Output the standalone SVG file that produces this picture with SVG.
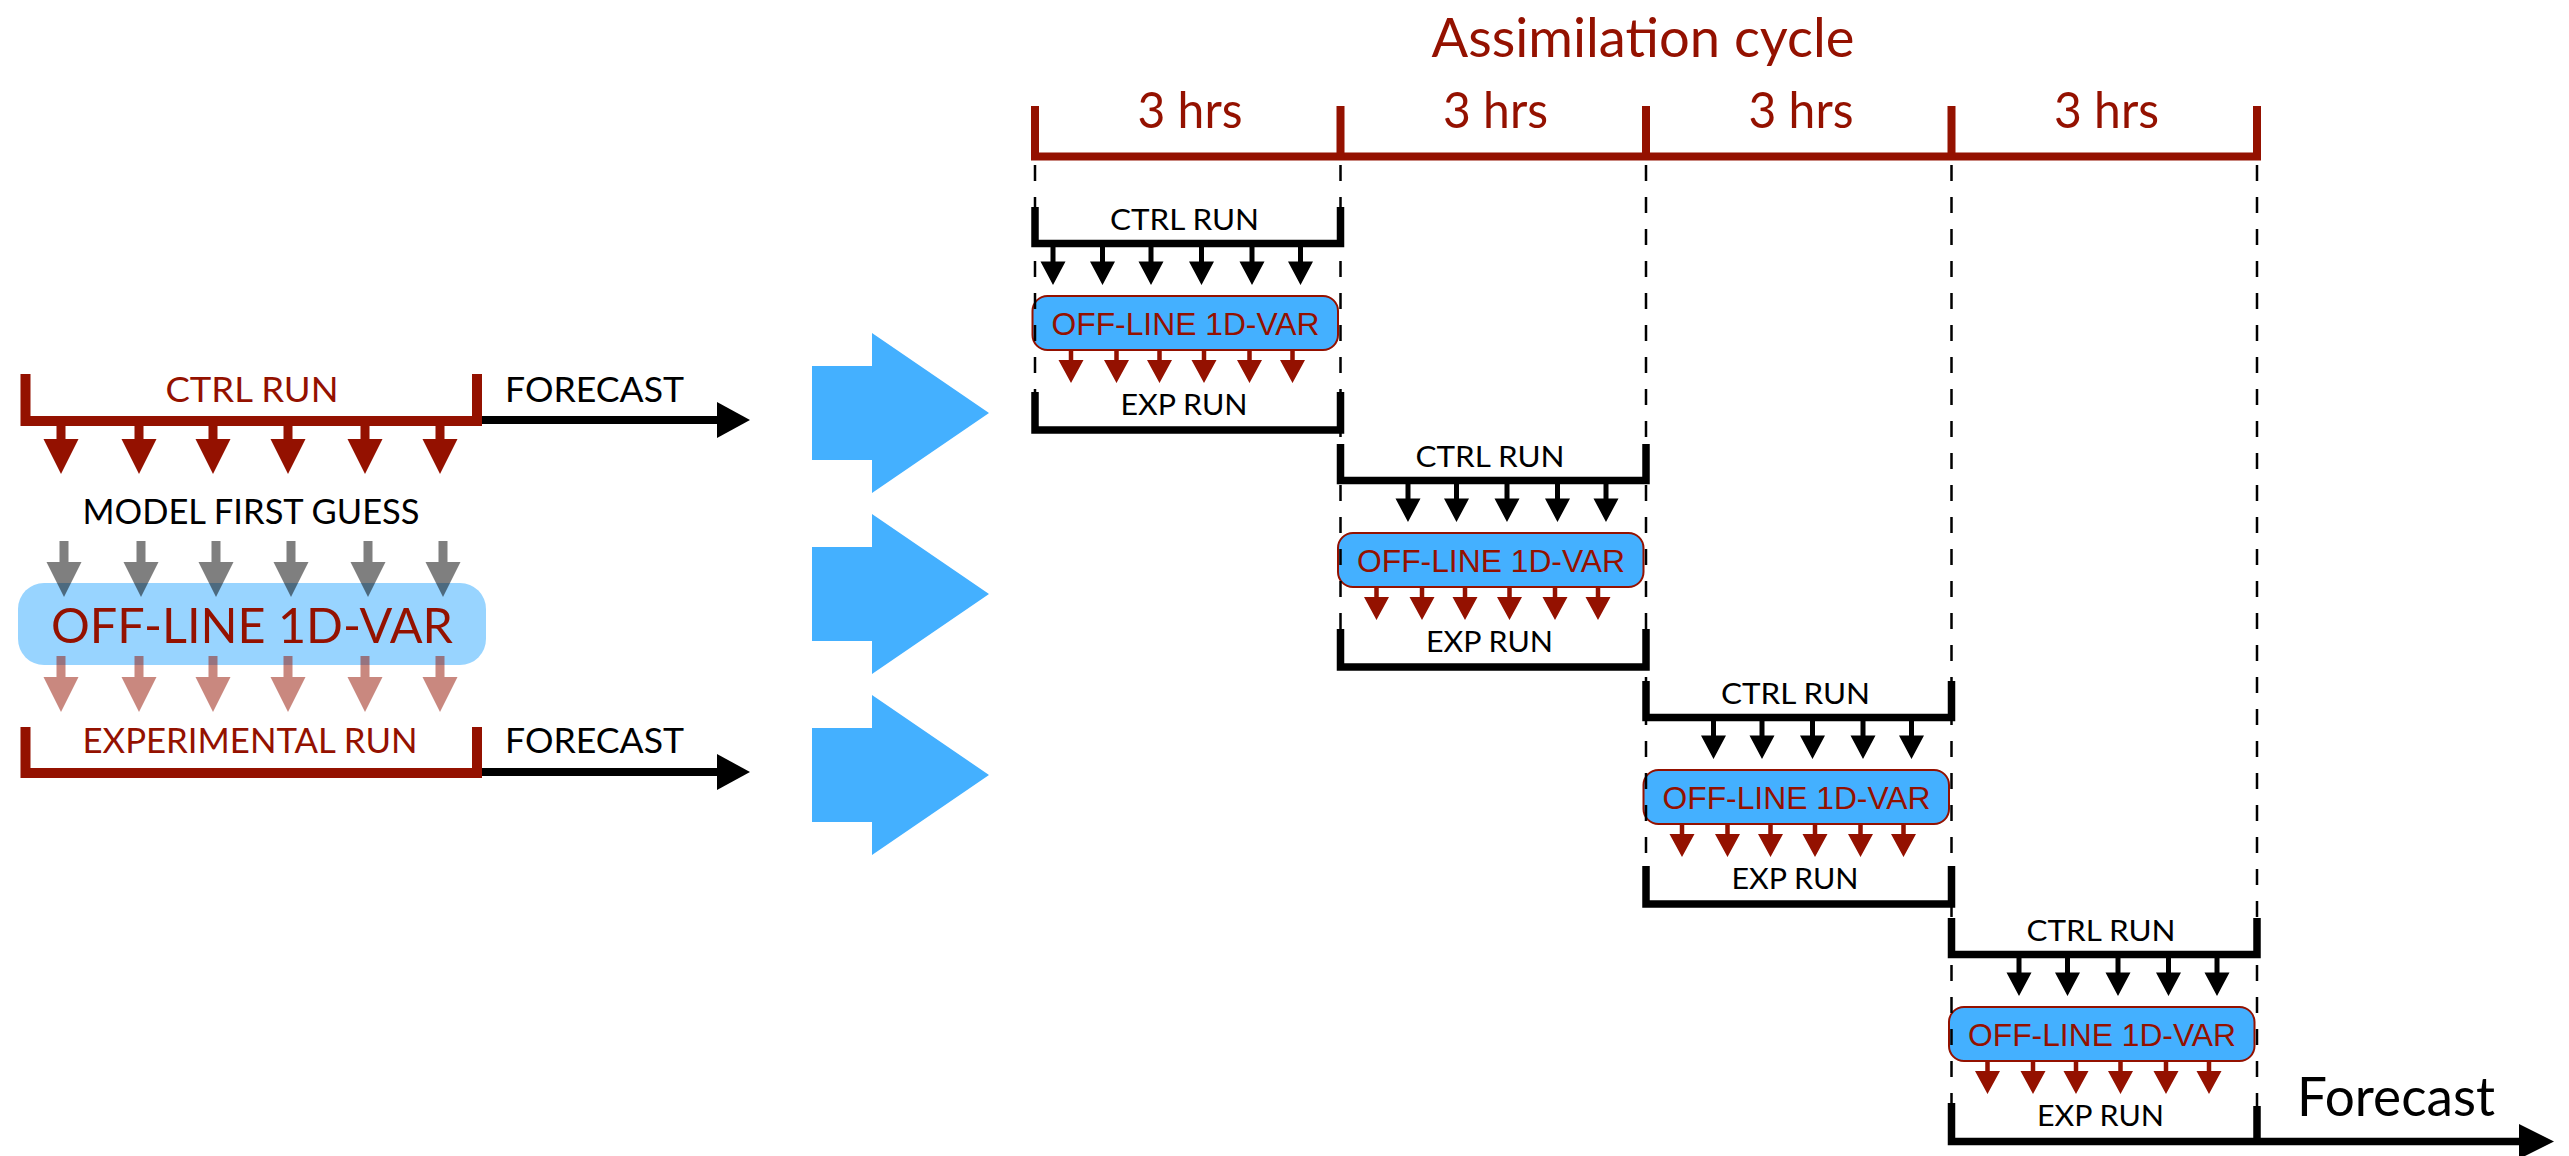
<svg xmlns="http://www.w3.org/2000/svg" xmlns:xlink="http://www.w3.org/1999/xlink" width="2569" height="1156" viewBox="0 0 2569 1156">
  <style>
    .gill { font-family: "Lato", "Liberation Sans", sans-serif; }
    .arial { font-family: "Liberation Sans", Arial, sans-serif; }
    .red { fill: #941100; }
    .blk { fill: #000; }
    .mid { text-anchor: middle; }
    .brk-red { fill: none; stroke: #941100; stroke-width: 10; stroke-linejoin: miter; }
    .brk { fill: none; stroke: #000; stroke-width: 7.5; stroke-linejoin: miter; }
    .box { fill: #44b0ff; stroke: #941100; stroke-width: 2; }
    .guide { fill: none; stroke: #000; stroke-width: 2.5; stroke-dasharray: 16 16; }
    .shaft { fill: none; stroke: #000; stroke-width: 8; }
  </style>
  <defs>
    <!-- down arrow used on the left panel -->
    <path id="dnL" d="M-4.5,0 H4.5 V21 H17.5 L0,56 L-17.5,21 H-4.5 Z"/>
    <!-- small down arrow from a CTRL bar -->
    <path id="dnS" d="M-2.5,0 H2.5 V18 H12.5 L0,41.5 L-12.5,18 H-2.5 Z"/>
    <!-- small down arrow from a 1D-VAR box -->
    <path id="dnR" d="M-2.25,0 H2.25 V10 H12.5 L0,33 L-12.5,10 H-2.25 Z"/>
    <!-- wide block arrow -->
    <path id="block" d="M0,-47 H60 V-80 L177,0 L60,80 V47 H0 Z"/>
  </defs>

  <rect width="2569" height="1156" fill="#fff"/>

  <!-- ===== left panel ===== -->
  <g id="left-ctrl">
    <path class="brk-red" d="M25.5,374 V421 H477 V374"/>
    <text class="gill red mid" x="252" y="402" font-size="34" textLength="173" lengthAdjust="spacingAndGlyphs">CTRL RUN</text>
  </g>
  <g id="left-forecast-ctrl">
    <text class="gill blk" x="505" y="402" font-size="35" textLength="179" lengthAdjust="spacingAndGlyphs">FORECAST</text>
  </g>
  <g id="left-first-guess">
    <text class="gill blk mid" x="251" y="524" font-size="34" textLength="337" lengthAdjust="spacingAndGlyphs">MODEL FIRST GUESS</text>
  </g>
  <g id="left-1dvar">
    <rect x="18" y="583" width="468" height="82" rx="26" fill="#44b0ff" fill-opacity="0.55"/>
    <text class="gill red mid" x="252" y="643" font-size="49" textLength="402" lengthAdjust="spacingAndGlyphs">OFF-LINE 1D-VAR</text>
  </g>
  <g id="left-exp">
    <path class="brk-red" d="M25.5,727 V773 H477 V727"/>
    <text class="gill red mid" x="250" y="753" font-size="34" textLength="335" lengthAdjust="spacingAndGlyphs">EXPERIMENTAL RUN</text>
  </g>
  <g id="left-forecast-exp">
    <text class="gill blk" x="505" y="753" font-size="35" textLength="179" lengthAdjust="spacingAndGlyphs">FORECAST</text>
  </g>

  <!-- ===== assimilation timeline ===== -->
  <g id="timeline">
    <text class="gill red mid" x="1643" y="57" font-size="54" textLength="423" lengthAdjust="spacingAndGlyphs">Assimilation cycle</text>
    <g fill="none" stroke="#941100" stroke-width="8">
      <path d="M1031,156.5 H2261"/>
      <path d="M1035,106 V160 M1340.5,106 V160 M1646,106 V160 M1951.5,106 V160 M2257,106 V160"/>
    </g>
    <g class="gill red mid" font-size="50">
      <text x="1190" y="128" textLength="105" lengthAdjust="spacingAndGlyphs">3 hrs</text>
      <text x="1495.5" y="128" textLength="105" lengthAdjust="spacingAndGlyphs">3 hrs</text>
      <text x="1801" y="128" textLength="105" lengthAdjust="spacingAndGlyphs">3 hrs</text>
      <text x="2106.5" y="128" textLength="105" lengthAdjust="spacingAndGlyphs">3 hrs</text>
    </g>
  </g>

  <!-- ===== cycle stages (drawn in stage-0 coordinates, then shifted) ===== -->
  <g id="stage-1">
    <g id="stage-1-ctrl">
      <path class="brk" d="M1035,207 V243.5 H1340.5 V207"/>
      <text class="gill blk mid" x="1184.5" y="229.5" font-size="29" textLength="149" lengthAdjust="spacingAndGlyphs">CTRL RUN</text>
    </g>
    <g id="stage-1-1dvar">
      <rect class="box" x="1032.5" y="296" width="305.5" height="54" rx="15"/>
      <text class="arial red mid" x="1185.5" y="335" font-size="31" textLength="268" lengthAdjust="spacingAndGlyphs">OFF-LINE 1D-VAR</text>
    </g>
    <g id="stage-1-exp">
      <path class="brk" d="M1035,392 V430 H1340.5 V392"/>
      <text class="gill blk mid" x="1184" y="415" font-size="28.5" textLength="127" lengthAdjust="spacingAndGlyphs">EXP RUN</text>
    </g>
  </g>
  <g id="stage-2" transform="translate(305.5,237)">
    <g id="stage-2-ctrl">
      <path class="brk" d="M1035,207 V243.5 H1340.5 V207"/>
      <text class="gill blk mid" x="1184.5" y="229.5" font-size="29" textLength="149" lengthAdjust="spacingAndGlyphs">CTRL RUN</text>
    </g>
    <g id="stage-2-1dvar">
      <rect class="box" x="1032.5" y="296" width="305.5" height="54" rx="15"/>
      <text class="arial red mid" x="1185.5" y="335" font-size="31" textLength="268" lengthAdjust="spacingAndGlyphs">OFF-LINE 1D-VAR</text>
    </g>
    <g id="stage-2-exp">
      <path class="brk" d="M1035,392 V430 H1340.5 V392"/>
      <text class="gill blk mid" x="1184" y="415" font-size="28.5" textLength="127" lengthAdjust="spacingAndGlyphs">EXP RUN</text>
    </g>
  </g>
  <g id="stage-3" transform="translate(611,474)">
    <g id="stage-3-ctrl">
      <path class="brk" d="M1035,207 V243.5 H1340.5 V207"/>
      <text class="gill blk mid" x="1184.5" y="229.5" font-size="29" textLength="149" lengthAdjust="spacingAndGlyphs">CTRL RUN</text>
    </g>
    <g id="stage-3-1dvar">
      <rect class="box" x="1032.5" y="296" width="305.5" height="54" rx="15"/>
      <text class="arial red mid" x="1185.5" y="335" font-size="31" textLength="268" lengthAdjust="spacingAndGlyphs">OFF-LINE 1D-VAR</text>
    </g>
    <g id="stage-3-exp">
      <path class="brk" d="M1035,392 V430 H1340.5 V392"/>
      <text class="gill blk mid" x="1184" y="415" font-size="28.5" textLength="127" lengthAdjust="spacingAndGlyphs">EXP RUN</text>
    </g>
  </g>
  <g id="stage-4" transform="translate(916.5,711)">
    <g id="stage-4-ctrl">
      <path class="brk" d="M1035,207 V243.5 H1340.5 V207"/>
      <text class="gill blk mid" x="1184.5" y="229.5" font-size="29" textLength="149" lengthAdjust="spacingAndGlyphs">CTRL RUN</text>
    </g>
    <g id="stage-4-1dvar">
      <rect class="box" x="1032.5" y="296" width="305.5" height="54" rx="15"/>
      <text class="arial red mid" x="1185.5" y="335" font-size="31" textLength="268" lengthAdjust="spacingAndGlyphs">OFF-LINE 1D-VAR</text>
    </g>
    <g id="stage-4-exp">
      <path class="brk" d="M1035,392 V430.5 H1604 M1340.5,395 V430.5"/>
      <text class="gill blk mid" x="1184" y="415" font-size="28.5" textLength="127" lengthAdjust="spacingAndGlyphs">EXP RUN</text>
    </g>
  </g>
  <g id="final-forecast">
    <text class="gill blk" x="2297" y="1116" font-size="55" textLength="198" lengthAdjust="spacingAndGlyphs">Forecast</text>
  </g>

  <!-- dashed time guides -->
  <g id="guides" class="guide">
    <path d="M1035,165 V430"/>
    <path d="M1340.5,165 V667"/>
    <path d="M1646,165 V904"/>
    <path d="M1951.5,165 V1141"/>
    <path d="M2257,165 V1106"/>
  </g>

  <!-- ===== connectors ===== -->
  <g id="connectors">
    <!-- left panel: forecast arrows -->
    <path class="shaft" d="M482,420 H720"/>
    <polygon points="717,402 750,420 717,438" fill="#000"/>
    <path class="shaft" d="M482,772 H720"/>
    <polygon points="717,754 750,772 717,790" fill="#000"/>

    <!-- left panel: ctrl run to first guess -->
    <g fill="#941100">
      <use href="#dnL" x="61" y="418"/>
      <use href="#dnL" x="139" y="418"/>
      <use href="#dnL" x="213" y="418"/>
      <use href="#dnL" x="288" y="418"/>
      <use href="#dnL" x="365" y="418"/>
      <use href="#dnL" x="440" y="418"/>
    </g>
    <!-- left panel: first guess into 1D-VAR -->
    <g fill="#000" fill-opacity="0.5">
      <use href="#dnL" x="64" y="541"/>
      <use href="#dnL" x="141" y="541"/>
      <use href="#dnL" x="216" y="541"/>
      <use href="#dnL" x="291" y="541"/>
      <use href="#dnL" x="368" y="541"/>
      <use href="#dnL" x="443" y="541"/>
    </g>
    <!-- left panel: 1D-VAR into experimental run -->
    <g fill="#941100" fill-opacity="0.5">
      <use href="#dnL" x="61" y="656"/>
      <use href="#dnL" x="139" y="656"/>
      <use href="#dnL" x="213" y="656"/>
      <use href="#dnL" x="288" y="656"/>
      <use href="#dnL" x="365" y="656"/>
      <use href="#dnL" x="440" y="656"/>
    </g>

    <!-- block arrows -->
    <g fill="#44b0ff">
      <use href="#block" x="812" y="413"/>
      <use href="#block" x="812" y="594"/>
      <use href="#block" x="812" y="775"/>
    </g>

    <!-- stage 1 arrows -->
    <g fill="#000">
      <use href="#dnS" x="1053" y="243.5"/>
      <use href="#dnS" x="1102.5" y="243.5"/>
      <use href="#dnS" x="1151" y="243.5"/>
      <use href="#dnS" x="1201.5" y="243.5"/>
      <use href="#dnS" x="1252" y="243.5"/>
      <use href="#dnS" x="1300.5" y="243.5"/>
    </g>
    <g fill="#941100">
      <use href="#dnR" x="1071" y="350"/>
      <use href="#dnR" x="1116.5" y="350"/>
      <use href="#dnR" x="1159.5" y="350"/>
      <use href="#dnR" x="1204" y="350"/>
      <use href="#dnR" x="1249.5" y="350"/>
      <use href="#dnR" x="1292.5" y="350"/>
    </g>

    <!-- stages 2-4 arrows -->
    <g transform="translate(305.5,237)">
      <g fill="#000">
        <use href="#dnS" x="1102.5" y="243.5"/>
        <use href="#dnS" x="1151" y="243.5"/>
        <use href="#dnS" x="1201.5" y="243.5"/>
        <use href="#dnS" x="1252" y="243.5"/>
        <use href="#dnS" x="1300.5" y="243.5"/>
      </g>
      <g fill="#941100">
        <use href="#dnR" x="1071" y="350"/>
        <use href="#dnR" x="1116.5" y="350"/>
        <use href="#dnR" x="1159.5" y="350"/>
        <use href="#dnR" x="1204" y="350"/>
        <use href="#dnR" x="1249.5" y="350"/>
        <use href="#dnR" x="1292.5" y="350"/>
      </g>
    </g>
    <g transform="translate(611,474)">
      <g fill="#000">
        <use href="#dnS" x="1102.5" y="243.5"/>
        <use href="#dnS" x="1151" y="243.5"/>
        <use href="#dnS" x="1201.5" y="243.5"/>
        <use href="#dnS" x="1252" y="243.5"/>
        <use href="#dnS" x="1300.5" y="243.5"/>
      </g>
      <g fill="#941100">
        <use href="#dnR" x="1071" y="350"/>
        <use href="#dnR" x="1116.5" y="350"/>
        <use href="#dnR" x="1159.5" y="350"/>
        <use href="#dnR" x="1204" y="350"/>
        <use href="#dnR" x="1249.5" y="350"/>
        <use href="#dnR" x="1292.5" y="350"/>
      </g>
    </g>
    <g transform="translate(916.5,711)">
      <g fill="#000">
        <use href="#dnS" x="1102.5" y="243.5"/>
        <use href="#dnS" x="1151" y="243.5"/>
        <use href="#dnS" x="1201.5" y="243.5"/>
        <use href="#dnS" x="1252" y="243.5"/>
        <use href="#dnS" x="1300.5" y="243.5"/>
      </g>
      <g fill="#941100">
        <use href="#dnR" x="1071" y="350"/>
        <use href="#dnR" x="1116.5" y="350"/>
        <use href="#dnR" x="1159.5" y="350"/>
        <use href="#dnR" x="1204" y="350"/>
        <use href="#dnR" x="1249.5" y="350"/>
        <use href="#dnR" x="1292.5" y="350"/>
      </g>
      <!-- forecast arrow head -->
      <polygon points="1602.5,413 1637.5,430.5 1602.5,448" fill="#000"/>
    </g>
  </g>
</svg>
